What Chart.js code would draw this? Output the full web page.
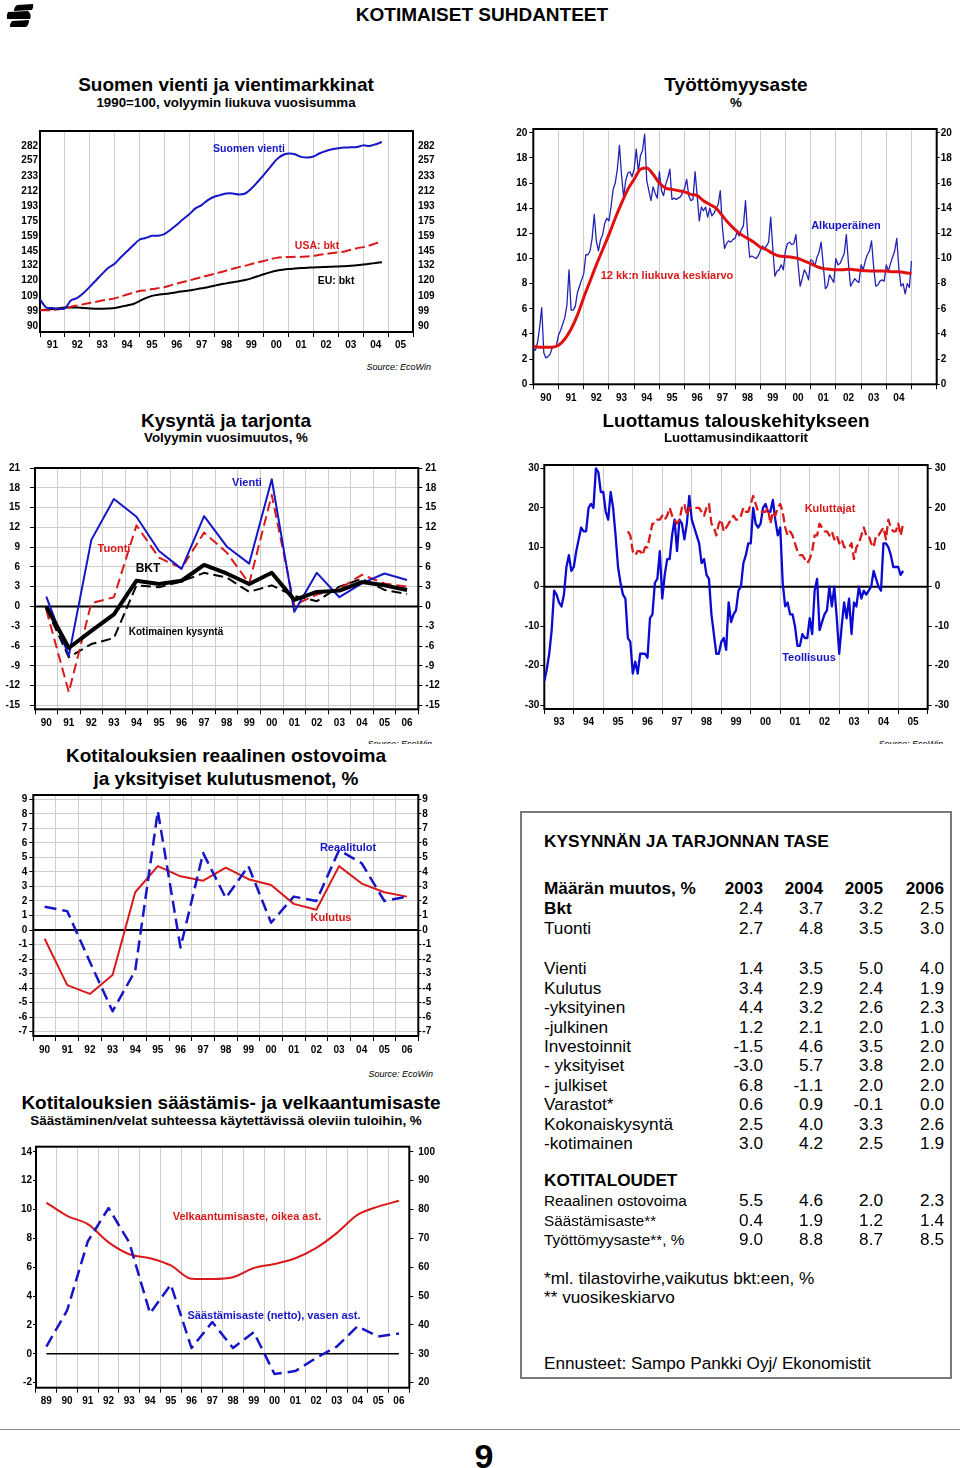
<!DOCTYPE html>
<html>
<head>
<meta charset="utf-8">
<script src="https://cdn.jsdelivr.net/npm/chart.js"></script>
<style>
html, body { margin: 0; padding: 0; background: #fff; }
#page { position: relative; width: 960px; height: 1468px; overflow: hidden; font-family: 'Liberation Sans', Arial, sans-serif; color: #000; }
.t { position: absolute; white-space: nowrap; line-height: 1; }
canvas { position: absolute; }
</style>
</head>
<body>
<div id="page"></div>
<script>
// ---- data ----
// Suomen vienti ja vientimarkkinat, quarterly from 1991 Q1, 1990=100
const exportQ = [106.6, 101.3, 100.9, 100.3, 100.7, 106.0, 107.6, 111.0, 115.4, 120.2, 125.3, 130.3,
  133.6, 139.3, 144.6, 150.2, 155.6, 157.3, 159.6, 159.6, 161.3, 165.8, 171.0, 177.2,
  182.8, 189.8, 193.8, 200.0, 204.3, 206.5, 208.6, 208.6, 207.3, 208.6, 215.2, 224.4,
  234.7, 246.1, 258.2, 265.8, 268.6, 267.5, 263.1, 262.0, 263.7, 269.2, 273.2, 276.0,
  277.8, 279.0, 279.5, 280.0, 283.0, 282.0, 285.0, 289.0];
const usaQ = [99.6, 99.5, 99.6, 100.2, 100.8, 101.8, 102.6, 103.4, 104.2, 105.0, 105.8, 106.5,
  107.3, 108.6, 110.0, 111.2, 112.4, 113.0, 113.8, 114.5, 115.2, 116.5, 117.8, 119.0,
  120.2, 121.5, 122.8, 124.0, 125.3, 126.6, 128.0, 129.4, 130.8, 132.0, 133.4, 134.8,
  136.0, 137.5, 138.7, 139.3, 139.5, 139.6, 139.6, 140.0, 140.5, 141.5, 142.3, 143.0,
  143.6, 144.5, 146.0, 147.5, 148.5, 150.0, 152.0, 154.5];
const euQ = [99.6, 99.8, 100.3, 100.8, 101.2, 101.3, 101.2, 100.9, 100.7, 100.5, 100.5, 100.6,
  100.9, 101.8, 102.6, 103.5, 105.5, 107.5, 109.0, 109.8, 110.3, 110.9, 111.6, 112.2,
  112.8, 113.6, 114.4, 115.2, 116.2, 117.2, 118.0, 118.9, 119.6, 120.5, 121.8, 123.4,
  125.0, 126.5, 127.8, 128.6, 129.2, 129.6, 130.0, 130.3, 130.5, 130.8, 131.0, 131.2,
  131.4, 131.6, 131.9, 132.3, 132.9, 133.6, 134.3, 135.0];
const logTicks = [90, 99, 109, 120, 132, 145, 159, 175, 193, 212, 233, 257, 282];

// Työttömyysaste, monthly from Jan 1990
const unempM = [
  2.9, 2.7, 3.3, 4.5, 6.1, 2.5, 2.1, 2.2, 2.4, 2.9, 3.0, 3.1,
  3.9, 4.3, 4.8, 5.3, 6.3, 9.1, 5.9, 5.9, 6.2, 7.3, 7.8, 8.3,
  8.8, 10.3, 10.3, 10.6, 11.6, 13.5, 11.4, 10.6, 11.5, 11.9, 12.8, 13.2,
  13.0, 14.1, 15.5, 16.0, 17.1, 19.0, 16.6, 14.9, 16.2, 16.8, 16.9, 16.5,
  17.1, 18.7, 16.9, 18.2, 18.6, 19.9, 16.2, 15.4, 14.6, 15.7, 15.2, 14.8,
  16.9, 15.4, 15.0, 15.9, 16.4, 17.1, 14.7, 14.8, 14.7, 14.8, 14.9, 15.2,
  15.6, 16.3, 15.0, 14.6, 14.7, 16.9, 15.0, 13.0, 14.1, 13.8, 14.1, 13.3,
  14.0, 13.4, 13.6, 14.0, 14.3, 15.4, 12.5, 10.8, 11.2, 11.4, 11.3, 11.5,
  11.6, 12.1, 11.8, 12.3, 12.6, 14.6, 12.0, 10.1, 10.2, 10.1, 10.0, 10.2,
  10.6, 11.0, 10.8, 11.0, 11.3, 13.3, 10.8, 8.6, 9.0, 9.1, 9.5, 9.1,
  10.6, 11.2, 11.3, 11.1, 11.2, 11.9, 9.6, 7.8, 8.4, 9.1, 8.8, 8.3,
  9.9, 9.8, 9.4, 10.1, 10.5, 11.3, 9.5, 7.6, 7.8, 8.7, 8.4, 8.1,
  10.0, 9.5, 9.6, 10.0, 10.4, 11.9, 9.6, 7.8, 8.1, 8.4, 8.2, 8.1,
  9.5, 9.1, 9.8, 10.3, 10.6, 11.4, 9.3, 7.8, 7.9, 8.2, 8.3, 8.2,
  9.5, 9.0, 9.6, 10.1, 10.6, 11.6, 9.2, 7.8, 8.0, 7.2, 8.0, 7.7,
  9.8];
// 12 kk:n liukuva keskiarvo, read quarterly from 1990 Q1
const unempAvgQ = [3.0, 2.95, 2.95, 2.95, 3.1, 3.6, 4.4, 5.5, 6.9, 8.2, 9.5, 10.7,
  11.9, 13.2, 14.4, 15.5, 16.3, 17.1, 17.2, 16.7, 16.0, 15.6, 15.5, 15.4,
  15.3, 15.1, 15.0, 14.6, 14.3, 14.0, 13.4, 12.8, 12.3, 11.9, 11.6, 11.3,
  10.9, 10.7, 10.4, 10.2, 10.15, 10.1, 10.0, 9.8, 9.6, 9.35, 9.2, 9.15,
  9.1, 9.1, 9.15, 9.1, 9.05, 9.03, 9.0, 9.0, 9.0, 8.95, 8.95, 8.87, 8.8];
const unempTicks = [0, 2, 4, 6, 8, 10, 12, 14, 16, 18, 20];

// Kysyntä ja tarjonta, 1990-2006
const years90 = ['90', '91', '92', '93', '94', '95', '96', '97', '98', '99', '00', '01', '02', '03', '04', '05', '06'];
const vienti = [1.5, -7.5, 10.1, 16.3, 13.6, 8.4, 5.7, 13.7, 9.1, 6.5, 19.3, -0.8, 5.1, 1.4, 3.5, 5.0, 4.0];
const tuonti = [-0.5, -13.0, 0.5, 1.4, 12.3, 7.4, 5.8, 11.2, 8.2, 3.5, 16.9, 0.2, 1.8, 2.7, 4.8, 3.5, 3.0];
const bkt = [0.0, -6.3, -3.7, -1.2, 3.9, 3.4, 3.9, 6.3, 5.0, 3.4, 5.1, 1.0, 2.2, 2.4, 3.7, 3.2, 2.5];
const kotimainen = [-0.3, -7.7, -5.7, -4.8, 3.2, 2.9, 3.8, 5.1, 4.4, 2.2, 3.2, 1.6, 0.8, 3.0, 4.2, 2.5, 1.9];
const demandTicks = [-15, -12, -9, -6, -3, 0, 3, 6, 9, 12, 15, 18, 21];

// Luottamusindikaattorit, monthly; Teollisuus from Jan 1993, Kuluttajat from Nov 1995
const teollisuus = [
  -24, -21, -17, -11, -1, -2, -4, -5, -2, 5, 8, 4,
  5, 9, 12, 15, 14, 14, 20, 21, 20, 30, 29, 24,
  24, 19, 17, 24, 20, 13, 5, 1, -2, -3, -13, -14,
  -22, -19, -22, -17, -17, -17, -18, -8, -7, 1, 2, 9,
  -3, 3, 7, 7, 13, 17, 9, 17, 16, 12, 16, 23,
  17, 15, 13, 11, 6, 7, 3, 2, -7, -12, -17, -17,
  -14, -13, -16, -4, -9, -7, -6, -1, 0, 6, 8, 11,
  11, 20, 16, 15, 16, 20, 21, 19, 19, 22, 17, 13,
  15, 1, -5, -4, -7, -7, -10, -15, -15, -12, -13, -13,
  -8, -12, -1, 2, -11, -9, -7, -6, 0, -5, 0, -8,
  -17, -10, -4, -8, -3, -12, -4, -5, 0, -3, -1, -2,
  -1, 0, 4, 2, 0, -1, 11, 11, 10, 8, 5, 5,
  5, 3, 4];
const kuluttajat = [
  14, 13, 9, 8, 9, 9, 8, 10, 10, 13,
  16, 16, 17, 17, 18, 17, 18, 20, 18, 17,
  16, 17, 20, 21, 18, 20, 20, 20, 20, 20,
  19, 18, 20, 21, 16, 15, 13, 16, 17, 14,
  15, 16, 17, 18, 17, 17, 18, 20, 19, 19,
  21, 23, 21, 19, 19, 19, 19, 20, 16, 19,
  18, 20, 21, 19, 15, 13, 14, 13, 11, 9,
  8, 8, 7, 6, 7, 9, 13, 13, 16, 15,
  14, 14, 13, 14, 12, 13, 11, 12, 10, 10,
  10, 11, 7, 10, 11, 13, 15, 13, 13, 11,
  10, 13, 13, 14, 15, 12, 17, 15, 14, 14,
  16, 13, 16];
const confTicks = [-30, -20, -10, 0, 10, 20, 30];

// Reaalinen ostovoima ja kulutus, 1990-2006
const reaalitulot = [1.6, 1.3, -2.2, -5.6, -2.8, 8.2, -1.2, 5.3, 2.2, 4.4, 0.5, 2.3, 2.0, 5.5, 4.6, 2.0, 2.3];
const kulutus = [-0.6, -3.8, -4.4, -3.1, 2.6, 4.4, 3.7, 3.4, 4.3, 3.5, 3.1, 1.8, 1.4, 4.4, 3.2, 2.6, 2.3];
const incomeTicks = [-7, -6, -5, -4, -3, -2, -1, 0, 1, 2, 3, 4, 5, 6, 7, 8, 9];

// Säästämis- ja velkaantumisaste, 1989-2006
const years89 = ['89', '90', '91', '92', '93', '94', '95', '96', '97', '98', '99', '00', '01', '02', '03', '04', '05', '06'];
const saastamisaste = [0.5, 3.0, 7.8, 10.1, 7.7, 2.8, 4.8, 0.4, 2.2, 0.4, 1.5, -1.4, -1.2, -0.3, 0.5, 1.9, 1.2, 1.4];
const velkaantumisaste = [82.4, 77.8, 74.9, 68.6, 64.5, 63.1, 60.6, 56.0, 55.9, 56.5, 59.7, 61.1, 63.1, 66.6, 71.8, 78.1, 81.0, 83.0];
const savingTicks = [-2, 0, 2, 4, 6, 8, 10, 12, 14];
const debtTicks = [20, 30, 40, 50, 60, 70, 80, 90, 100];

// Table
const tableYears = ['2003', '2004', '2005', '2006'];
const tableTop = [['Bkt', [2.4, 3.7, 3.2, 2.5]], ['Tuonti', [2.7, 4.8, 3.5, 3.0]]];
const tableUse = [
  ['Vienti', [1.4, 3.5, 5.0, 4.0]],
  ['Kulutus', [3.4, 2.9, 2.4, 1.9]],
  ['-yksityinen', [4.4, 3.2, 2.6, 2.3]],
  ['-julkinen', [1.2, 2.1, 2.0, 1.0]],
  ['Investoinnit', [-1.5, 4.6, 3.5, 2.0]],
  ['- yksityiset', [-3.0, 5.7, 3.8, 2.0]],
  ['- julkiset', [6.8, -1.1, 2.0, 2.0]],
  ['Varastot*', [0.6, 0.9, -0.1, 0.0]],
  ['Kokonaiskysyntä', [2.5, 4.0, 3.3, 2.6]],
  ['-kotimainen', [3.0, 4.2, 2.5, 1.9]]];
const tableHouse = [
  ['Reaalinen ostovoima', [5.5, 4.6, 2.0, 2.3]],
  ['Säästämisaste**', [0.4, 1.9, 1.2, 1.4]],
  ['Työttömyysaste**, %', [9.0, 8.8, 8.7, 8.5]]];

// ---- setup ----
const BLUE = '#1616c6', RED = '#d81a1a', GRID = '#cdcdcd';
const FONT = "'Liberation Sans', Arial, sans-serif";
Chart.defaults.font.family = FONT;
Chart.defaults.color = '#000';
Chart.defaults.elements.point.radius = 0;
Chart.defaults.elements.line.borderJoinStyle = 'round';
Chart.defaults.elements.line.fill = false;

Chart.register({
  id: 'frame',
  beforeDatasetsDraw(chart) {
    const { ctx, chartArea: a } = chart;
    ctx.save();
    ctx.strokeStyle = '#000';
    ctx.lineWidth = 2;
    ctx.strokeRect(a.left, a.top, a.right - a.left, a.bottom - a.top);
    ctx.restore();
  }
});
Chart.register({
  id: 'zero',
  beforeDatasetsDraw(chart, args, o) {
    if (!o.width) return;
    const { ctx, chartArea: a } = chart;
    const y = chart.scales.y.getPixelForValue(0);
    let l = a.left, r = a.right;
    if (o.points) {
      l = chart.scales.x.getPixelForValue(0);
      r = chart.scales.x.getPixelForValue(chart.data.labels.length - 1);
    }
    ctx.save();
    ctx.strokeStyle = '#000';
    ctx.lineWidth = o.width;
    ctx.beginPath();
    ctx.moveTo(l, y);
    ctx.lineTo(r, y);
    ctx.stroke();
    ctx.restore();
  }
});

const page = document.getElementById('page');

function put(str, x, y, o) {
  o = o || {};
  const d = document.createElement('div');
  d.className = 't';
  d.textContent = str;
  d.style.left = x + 'px';
  d.style.top = y + 'px';
  d.style.fontSize = (o.size || 11) + 'px';
  d.style.fontWeight = o.bold ? 'bold' : 'normal';
  if (o.italic) d.style.fontStyle = 'italic';
  d.style.color = o.color || '#000';
  const tx = o.align === 'left' ? '0' : o.align === 'right' ? '-100%' : '-50%';
  d.style.transform = 'translate(' + tx + ',-50%)';
  page.appendChild(d);
  return d;
}

function canvasAt(box) {
  const c = document.createElement('canvas');
  c.width = box.r - box.l;
  c.height = box.b - box.t;
  c.style.left = box.l + 'px';
  c.style.top = box.t + 'px';
  c.style.width = c.width + 'px';
  c.style.height = c.height + 'px';
  page.appendChild(c);
  return c;
}

function series(vals, start, perYear) {
  return vals.map((v, i) => ({ x: start + i / perYear, y: v }));
}

function baseOptions(plot, box, scales, extra) {
  return {
    responsive: false, animation: false, devicePixelRatio: 1, events: [],
    layout: { padding: { top: plot.t - box.t, left: 0, right: 0, bottom: 0 } },
    plugins: Object.assign({ legend: { display: false }, tooltip: { enabled: false } }, extra || {}),
    scales: scales
  };
}

function yAxis(side, plot, box, ticks, min, max, o) {
  const left = side === 'left';
  return {
    type: o.type || 'linear', position: side, min: min, max: max,
    afterFit(s) { s.width = left ? plot.l - box.l : box.r - plot.r; },
    afterBuildTicks(s) { s.ticks = ticks.map(v => ({ value: v })); },
    grid: { drawOnChartArea: !!o.hgrid, color: GRID, lineWidth: 1, drawTicks: (o.tick || 0) > 0, tickLength: o.tick || 0, tickColor: '#000' },
    border: { display: false },
    ticks: { autoSkip: false, padding: o.pad, color: '#000', font: { size: o.size || 10, weight: 'bold' }, callback: v => String(v) }
  };
}

function xYears(plot, box, min, max, lastLabel, pad) {
  const half = (plot.r - plot.l) / (max - min) / 2;
  const marks = [];
  for (let y = min; y <= max; y++) marks.push(y);
  return {
    type: 'linear', position: 'bottom', min: min, max: max,
    afterFit(s) { s.height = box.b - plot.b; },
    afterBuildTicks(s) { s.ticks = marks.map(v => ({ value: v })); },
    grid: { color: GRID, lineWidth: 1, tickLength: 5, tickColor: '#000' },
    border: { display: false },
    ticks: { autoSkip: false, maxRotation: 0, minRotation: 0, labelOffset: half, padding: pad, color: '#000',
      font: { size: 10, weight: 'bold' }, callback: v => (v <= lastLabel ? String(v).slice(2) : '') }
  };
}

function xCats(plot, box, pad) {
  return {
    type: 'category', position: 'bottom', offset: true,
    afterFit(s) { s.height = box.b - plot.b; },
    grid: { offset: true, color: GRID, lineWidth: 1, tickLength: 5, tickColor: '#000' },
    border: { display: false },
    ticks: { autoSkip: false, maxRotation: 0, minRotation: 0, padding: pad, color: '#000', font: { size: 10, weight: 'bold' } }
  };
}

// ---- header ----
const logo = document.createElementNS('http://www.w3.org/2000/svg', 'svg');
logo.setAttribute('width', '34');
logo.setAttribute('height', '30');
logo.style.cssText = 'position:absolute;left:2px;top:1px;';
logo.innerHTML = '<path d="M15 4 L31 3 Q32 6 30 9 L12 10 Q12 6 15 4 Z" fill="#000"/>' +
  '<path d="M6 11 L26 10 Q30 13 28 18 L5 18 Q4 14 6 11 Z" fill="#000"/>' +
  '<path d="M10 20 L27 19 Q27 24 24 26 L8 26 Q8 22 10 20 Z" fill="#000"/>';
page.appendChild(logo);
put('KOTIMAISET SUHDANTEET', 482, 14, { size: 19, bold: true });

// ---- chart 1: Suomen vienti ----
put('Suomen vienti ja vientimarkkinat', 226, 84, { size: 19, bold: true });
put('1990=100, volyymin liukuva vuosisumma', 226, 103, { size: 13.3, bold: true });
const plot1 = { l: 40, t: 129, r: 413, b: 332 }, box1 = { l: 0, t: 120, r: 440, b: 356 };
new Chart(canvasAt(box1), {
  type: 'line',
  data: { datasets: [
    { data: series(exportQ, 1991, 4), borderColor: BLUE, borderWidth: 2, tension: 0.3 },
    { data: series(usaQ, 1991, 4), borderColor: RED, borderWidth: 2, borderDash: [10, 4], tension: 0.3 },
    { data: series(euQ, 1991, 4), borderColor: '#000', borderWidth: 2, tension: 0.3 }
  ] },
  options: baseOptions(plot1, box1, {
    x: xYears(plot1, box1, 1991, 2006, 2005, 2),
    y: yAxis('left', plot1, box1, logTicks, 86.7, 310, { type: 'logarithmic', tick: 0, pad: 2 }),
    y2: yAxis('right', plot1, box1, logTicks, 86.7, 310, { type: 'logarithmic', tick: 0, pad: 5 })
  })
});
put('Suomen vienti', 249, 148, { size: 10.5, bold: true, color: BLUE });
put('USA: bkt', 317, 245, { size: 10.5, bold: true, color: RED });
put('EU: bkt', 336, 280, { size: 10.5, bold: true });
put('Source: EcoWin', 431, 367, { size: 9, italic: true, align: 'right' });

// ---- chart 2: Työttömyysaste ----
put('Työttömyysaste', 736, 84, { size: 19, bold: true });
put('%', 736, 103, { size: 13.3, bold: true });
const plot2 = { l: 533.3, t: 129, r: 936.7, b: 384.3 }, box2 = { l: 505, t: 120, r: 960, b: 410 };
new Chart(canvasAt(box2), {
  type: 'line',
  data: { datasets: [
    { data: series(unempAvgQ, 1990, 4), borderColor: '#e01010', borderWidth: 3, cubicInterpolationMode: 'monotone' },
    { data: series(unempM, 1990, 12), borderColor: '#2222b4', borderWidth: 1.3 }
  ] },
  options: baseOptions(plot2, box2, {
    x: xYears(plot2, box2, 1990, 2006, 2004, 3),
    y: yAxis('left', plot2, box2, unempTicks, 0, 20.3, { tick: 4, pad: 2 }),
    y2: yAxis('right', plot2, box2, unempTicks, 0, 20.3, { tick: 3, pad: 1 })
  })
});
put('Alkuperäinen', 846, 225, { size: 11, bold: true, color: BLUE });
put('12 kk:n liukuva keskiarvo', 667, 275, { size: 11, bold: true, color: RED });

// ---- chart 3: Kysyntä ja tarjonta ----
put('Kysyntä ja tarjonta', 226, 420, { size: 19, bold: true });
put('Volyymin vuosimuutos, %', 226, 438, { size: 13.3, bold: true });
const plot3 = { l: 35, t: 462.7, r: 418.3, b: 709.3 }, box3 = { l: 0, t: 452, r: 440, b: 740 };
new Chart(canvasAt(box3), {
  type: 'line',
  data: { labels: years90, datasets: [
    { data: bkt, borderColor: '#000', borderWidth: 4 },
    { data: vienti, borderColor: BLUE, borderWidth: 2 },
    { data: tuonti, borderColor: RED, borderWidth: 2, borderDash: [10, 5] },
    { data: kotimainen, borderColor: '#000', borderWidth: 2, borderDash: [10, 5] }
  ] },
  options: baseOptions(plot3, box3, {
    x: xCats(plot3, box3, 3),
    y: yAxis('left', plot3, box3, demandTicks, -15.6, 21, { tick: 5, pad: 10, hgrid: true }),
    y2: yAxis('right', plot3, box3, demandTicks, -15.6, 21, { tick: 4, pad: 3 })
  }, { zero: { width: 2 } })
});
put('Vienti', 247, 482, { size: 11, bold: true, color: BLUE });
put('Tuonti', 114, 548, { size: 11, bold: true, color: RED });
put('BKT', 148, 568, { size: 12, bold: true });
put('Kotimainen kysyntä', 176, 632, { size: 10, bold: true });

// ---- chart 4: Luottamus ----
put('Luottamus talouskehitykseen', 736, 420, { size: 19, bold: true });
put('Luottamusindikaattorit', 736, 438, { size: 13.3, bold: true });
const plot4 = { l: 544.3, t: 465, r: 927.7, b: 709 }, box4 = { l: 505, t: 455, r: 960, b: 740 };
new Chart(canvasAt(box4), {
  type: 'line',
  data: { datasets: [
    { data: series(kuluttajat, 1993 + 34 / 12, 12), borderColor: RED, borderWidth: 2.3, borderDash: [9, 4] },
    { data: series(teollisuus, 1993, 12), borderColor: '#0a0ad2', borderWidth: 2.3 }
  ] },
  options: baseOptions(plot4, box4, {
    x: xYears(plot4, box4, 1993, 2006, 2005, 2),
    y: yAxis('left', plot4, box4, confTicks, -31, 30.85, { tick: 4, pad: 1 }),
    y2: yAxis('right', plot4, box4, confTicks, -31, 30.85, { tick: 4, pad: 3 })
  }, { zero: { width: 2 } })
});
put('Kuluttajat', 830, 508, { size: 11, bold: true, color: RED });
put('Teollisuus', 809, 657, { size: 11, bold: true, color: BLUE });

// clipped source lines under charts 3 and 4
[[432, 742], [943, 742]].forEach(p => {
  const w = document.createElement('div');
  w.style.cssText = 'position:absolute;overflow:hidden;height:4px;width:80px;text-align:right;font-size:9px;font-style:italic;line-height:9px;';
  w.style.left = (p[0] - 80) + 'px';
  w.style.top = (p[1] - 2) + 'px';
  w.textContent = 'Source: EcoWin';
  page.appendChild(w);
});

// ---- chart 5: Reaalinen ostovoima ----
put('Kotitalouksien reaalinen ostovoima', 226, 755, { size: 19, bold: true });
put('ja yksityiset kulutusmenot, %', 226, 778, { size: 19, bold: true });
const plot5 = { l: 33.3, t: 795, r: 418.3, b: 1036 }, box5 = { l: 0, t: 785, r: 440, b: 1060 };
new Chart(canvasAt(box5), {
  type: 'line',
  data: { labels: years90, datasets: [
    { data: reaalitulot, borderColor: BLUE, borderWidth: 2.5, borderDash: [12, 6] },
    { data: kulutus, borderColor: RED, borderWidth: 2 }
  ] },
  options: baseOptions(plot5, box5, {
    x: xCats(plot5, box5, 3),
    y: yAxis('left', plot5, box5, incomeTicks, -7.3, 9.3, { tick: 4, pad: 2, hgrid: true }),
    y2: yAxis('right', plot5, box5, incomeTicks, -7.3, 9.3, { tick: 3, pad: 1 })
  }, { zero: { width: 2 } })
});
put('Reaalitulot', 348, 847, { size: 11, bold: true, color: BLUE });
put('Kulutus', 331, 917, { size: 11, bold: true, color: RED });
put('Source: EcoWin', 433, 1074, { size: 9, italic: true, align: 'right' });

// ---- chart 6: Säästämis- ja velkaantumisaste ----
put('Kotitalouksien säästämis- ja velkaantumisaste', 231, 1102, { size: 19, bold: true });
put('Säästäminen/velat suhteessa käytettävissä oleviin tuloihin, %', 226, 1121, { size: 13.4, bold: true });
const plot6 = { l: 36, t: 1146.7, r: 409.3, b: 1387.7 }, box6 = { l: 0, t: 1135, r: 440, b: 1410 };
new Chart(canvasAt(box6), {
  type: 'line',
  data: { labels: years89, datasets: [
    { data: saastamisaste, yAxisID: 'y', borderColor: BLUE, borderWidth: 2.5, borderDash: [12, 6] },
    { data: velkaantumisaste, yAxisID: 'y2', borderColor: RED, borderWidth: 2, cubicInterpolationMode: 'monotone' }
  ] },
  options: baseOptions(plot6, box6, {
    x: xCats(plot6, box6, 3),
    y: yAxis('left', plot6, box6, savingTicks, -2.35, 14.35, { tick: 3, pad: 1 }),
    y2: yAxis('right', plot6, box6, debtTicks, 18.25, 101.75, { tick: 4, pad: 5 })
  }, { zero: { width: 1.5, points: true } })
});
put('Velkaantumisaste, oikea ast.', 247, 1216, { size: 11, bold: true, color: RED });
put('Säästämisaste (netto), vasen ast.', 274, 1315, { size: 11, bold: true, color: BLUE });

// ---- table ----
const tbox = document.createElement('div');
tbox.style.cssText = 'position:absolute;left:520px;top:811px;width:428px;height:564px;border:2px solid #7a7a7a;';
page.appendChild(tbox);
const colRight = [763, 823, 883, 944];
put('KYSYNNÄN JA TARJONNAN TASE', 544, 842, { size: 17.3, bold: true, align: 'left' });
put('Määrän muutos, %', 544, 889, { size: 17.2, bold: true, align: 'left' });
tableYears.forEach((y, j) => put(y, colRight[j], 889, { size: 17.2, bold: true, align: 'right' }));
function tableRow(row, y, labelSize, bold) {
  put(row[0], 544, y, { size: labelSize, bold: bold, align: 'left' });
  row[1].forEach((v, j) => put(v.toFixed(1), colRight[j], y, { size: 17.2, align: 'right' }));
}
tableTop.forEach((r, i) => tableRow(r, 909.3 + i * 19.4, 17.2, i === 0));
tableUse.forEach((r, i) => tableRow(r, 969.3 + i * 19.4, 17.2, false));
put('KOTITALOUDET', 544, 1181, { size: 17.2, bold: true, align: 'left' });
tableHouse.forEach((r, i) => tableRow(r, 1201 + i * 19.5, 15.3, false));
put('*ml. tilastovirhe,vaikutus bkt:een, %', 544, 1279, { size: 17.2, align: 'left' });
put('** vuosikeskiarvo', 544, 1298, { size: 17.2, align: 'left' });
put('Ennusteet: Sampo Pankki Oyj/ Ekonomistit', 544, 1364, { size: 17.2, align: 'left' });

// ---- footer ----
const rule = document.createElement('div');
rule.style.cssText = 'position:absolute;left:0;top:1429px;width:960px;height:0;border-top:1.5px solid #8a8a8a;';
page.appendChild(rule);
put('9', 484, 1456, { size: 34, bold: true });
</script>
</body>
</html>
